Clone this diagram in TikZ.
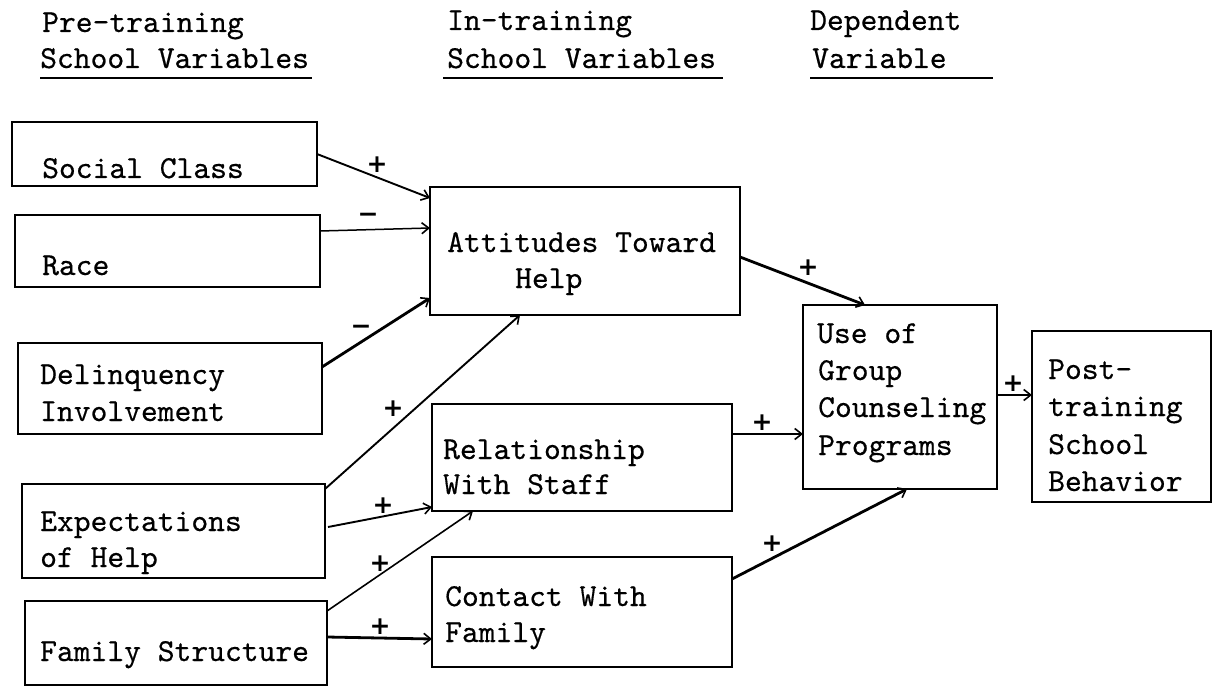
\documentclass[tikz,border=0pt]{standalone}
\usepackage{fontspec}
\newfontfamily\twfont{lmmono10-regular.otf}[FakeBold=0.45]
\newfontfamily\signfont{DejaVu Sans}
\usetikzlibrary{arrows.meta,calc}
\begin{document}
\begin{tikzpicture}[x=1pt,y=-1pt,
  box/.style={draw=black,line width=2.8pt,rectangle,inner sep=0pt,outer sep=0pt,anchor=north west},
  txt/.style={anchor=base west,inner sep=0pt,font=\fontsize{32}{37}\selectfont\twfont},
  conn/.style={line width=1.9pt,-{Straight Barb[length=7pt,width=11pt,line width=1.6pt]}},
  thick conn/.style={conn,line width=2.8pt},
  sign/.style={inner sep=0pt,font=\fontsize{25}{25}\selectfont\signfont\bfseries}
]
\useasboundingbox (0,0) rectangle (1214,687);

% headers
\node[txt] (h1a) at (42,32) {Pre-training};
\node[txt] (h1b) at (40,68) {School Variables};
\node[txt] (h2a) at (447,30) {In-training};
\node[txt] (h2b) at (447,68) {School Variables};
\node[txt] (h3a) at (810,30) {Dependent};
\node[txt] (h3b) at (812,68) {Variable};
\coordinate (u1a) at (40,78);  \coordinate (u1b) at (312,78);
\coordinate (u2a) at (443,78); \coordinate (u2b) at (723,78);
\coordinate (u3a) at (810,78); \coordinate (u3b) at (993,78);
\draw[line width=2pt] (u1a) -- (u1b);
\draw[line width=2pt] (u2a) -- (u2b);
\draw[line width=2pt] (u3a) -- (u3b);

% boxes
\node[box,minimum width=305pt,minimum height=64pt] (sc) at (12,122) {};
\node[box,minimum width=305pt,minimum height=72pt] (race) at (15,215) {};
\node[box,minimum width=304pt,minimum height=91pt] (del) at (18,343) {};
\node[box,minimum width=303pt,minimum height=94pt] (exp) at (22,484) {};
\node[box,minimum width=302pt,minimum height=84pt] (fam) at (25,601) {};
\node[box,minimum width=310pt,minimum height=128pt] (att) at (430,187) {};
\node[box,minimum width=300pt,minimum height=107pt] (rel) at (432,404) {};
\node[box,minimum width=300pt,minimum height=110pt] (con) at (432,557) {};
\node[box,minimum width=194pt,minimum height=184pt] (use) at (803,305) {};
\node[box,minimum width=179pt,minimum height=171pt] (post) at (1032,331) {};

% box texts
\node[txt] (tsc) at (42,178) {Social Class};
\node[txt] (trace) at (42,275) {Race};
\node[txt] (tdel1) at (40,384) {Delinquency};
\node[txt] (tdel2) at (40,421) {Involvement};
\node[txt] (texp1) at (40,531) {Expectations};
\node[txt] (texp2) at (40,567) {of Help};
\node[txt] (tfam) at (40,661) {Family Structure};
\node[txt] (tatt1) at (447,252) {Attitudes Toward};
\node[txt] (tatt2) at (515,288) {Help};
\node[txt] (trel1) at (443,459) {Relationship};
\node[txt] (trel2) at (443,494) {With Staff};
\node[txt] (tcon1) at (445,606) {Contact With};
\node[txt] (tcon2) at (445,642) {Family};
\node[txt] (tuse1) at (817,343) {Use of};
\node[txt] (tuse2) at (818,380) {Group};
\node[txt] (tuse3) at (818,417) {Counseling};
\node[txt] (tuse4) at (818,455) {Programs};
\node[txt] (tpost1) at (1048,379) {Post-};
\node[txt] (tpost2) at (1048,416) {training};
\node[txt] (tpost3) at (1048,454) {School};
\node[txt] (tpost4) at (1048,491) {Behavior};

% connectors
\draw[conn] ([yshift=-32pt]sc.north east) -- ([yshift=-11pt]att.north west);
\draw[conn,line width=1.5pt] ([yshift=-16pt]race.north east) -- ([yshift=-41pt]att.north west);
\draw[thick conn] ([yshift=-24pt]del.north east) -- ([yshift=-111pt]att.north west);
\draw[conn] ([yshift=-5pt]exp.north east) -- ([xshift=90pt]att.south west);
\draw[conn] ([xshift=3pt,yshift=-43pt]exp.north east) -- ([yshift=4pt]rel.south west);
\draw[conn,line width=1.6pt] ([yshift=-10pt]fam.north east) -- ([xshift=41pt]rel.south west);
\draw[thick conn] ([yshift=-36pt]fam.north east) -- ([yshift=-82pt]con.north west);
\draw[thick conn] ([yshift=-70pt]att.north east) -- ([xshift=62pt]use.north west);
\draw[conn] ([yshift=-30pt]rel.north east) -- ([yshift=-129pt]use.north west);
\draw[thick conn] ([yshift=-22pt]con.north east) -- ([xshift=104pt]use.south west);
\draw[thick conn] ([yshift=-90pt]use.north east) -- ([yshift=-64pt]post.north west);

% signs
\node[sign] (s1) at (377,165) {+};
\node[sign] (s2) at (368,218) {−};
\node[sign] (s3) at (361,330) {−};
\node[sign] (s4) at (393,409) {+};
\node[sign] (s5) at (383,506) {+};
\node[sign] (s6) at (380,564) {+};
\node[sign] (s7) at (380,627) {+};
\node[sign] (s8) at (808,268) {+};
\node[sign] (s9) at (762,423) {+};
\node[sign] (s10) at (772,544) {+};
\node[sign] (s11) at (1013,384) {+};
\end{tikzpicture}
\end{document}
